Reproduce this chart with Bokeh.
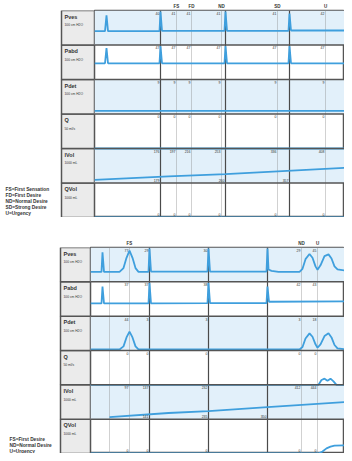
import numpy as np
from bokeh.plotting import figure
from bokeh.layouts import column, row
from bokeh.models import Range1d, LinearAxis, FixedTicker, Span, BoxAnnotation
from bokeh.core.properties import value
from bokeh.embed import file_html
from bokeh.resources import INLINE

FONT = "Liberation Sans"
TRACE = "#3f9fdd"
BAND = "#e2f0fa"
GRID = "#555555"
TEXT = "#333333"

# ---------------- channels ----------------
channels = ["Pves", "Pabd", "Pdet", "Q", "IVol", "QVol"]
channel_units = ["100 cm H2O", "100 cm H2O", "100 cm H2O", "50 ml/s", "1000 mL", "1000 mL"]
channel_scale = [100, 100, 100, 50, 1000, 1000]

# ---------------- panel 1 (filling) ----------------
t1_press = [0, 10.5, 12, 13.5, 65, 66, 67.5, 130, 131, 132.5, 194, 195, 196.5, 250]
p1_pves = [40, 40, 86, 40, 40, 97, 41, 41, 97, 41, 41, 91, 42, 42]
p1_pabd = [47, 47, 91, 47, 47, 97, 47, 47, 97, 47, 47, 97, 47, 47]
t1_pdet = [0, 250]
p1_pdet = [9, 9]
t1_q = [0, 250]
p1_q = [0, 0]
t1_ivol = [0, 74, 131, 250]
p1_ivol = [90, 190, 260, 440]
t1_qvol = [0, 250]
p1_qvol = [0, 0]
p1_page_lines = [66, 131, 195]
p1_event_times = [82, 97, 127, 183, 231]
p1_event_names = ["FS", "FD", "ND", "SD", "U"]
p1_value_marks = [66, 82, 97, 127, 183, 231]
p1_legend = ["FS=First Sensation", "FD=First Desire", "ND=Normal Desire",
             "SD=Strong Desire", "U=Urgency"]

# ---------------- panel 2 (filling + voiding) ----------------
t2_pves = [0, 11, 12, 13.5, 29, 33, 36, 39, 42, 45, 48, 58, 59, 60.5, 117, 118, 119.5,
           176, 177, 178, 181, 188, 209, 212, 215, 219, 222, 225, 227, 230, 234, 238,
           241, 244, 247, 254]
p2_pves = [29, 29, 86, 29, 29, 40, 70, 91, 70, 40, 29, 29, 97, 30, 30, 97, 30,
           30, 97, 36, 32, 29, 29, 38, 66, 81, 70, 45, 35, 48, 75, 80,
           68, 45, 36, 33]
t2_pabd = [0, 11, 12, 13.5, 58, 59, 60.5, 117, 118, 119.5, 176, 177, 178.5, 254]
p2_pabd = [37, 37, 86, 37, 37, 97, 37, 38, 97, 38, 38, 86, 42, 43]
t2_pdet = [0, 29, 33, 36, 39, 42, 45, 48, 209, 212, 215, 219, 222, 225, 227, 230,
           234, 238, 241, 244, 247, 254]
p2_pdet = [3, 3, 12, 38, 55, 38, 12, 3, 3, 10, 35, 50, 40, 18, 8, 18,
           42, 50, 38, 16, 6, 4]
t2_q = [0, 228, 231, 234, 237, 240, 243, 246, 254]
p2_q = [0, 0, 7, 9, 6, 9, 5, 0, 0]
t2_ivol = [19, 78, 118, 177, 254]
p2_ivol = [60, 180, 235, 350, 500]
t2_qvol = [0, 228, 232, 236, 240, 244, 254]
p2_qvol = [0, 0, 60, 150, 200, 230, 235]
p2_page_lines = [59, 118, 177]
p2_event_times = [19, 39, 211, 227]
p2_event_names = ["", "FS", "ND", "U"]
p2_value_marks = [39, 59, 118, 211, 227]
p2_legend = ["FS=First Desire", "ND=Normal Desire", "U=Urgency"]


def build_panel(left_w, plot_w, top, frame_h, xmax, traces, page_lines,
                ev_times, ev_names, value_marks, legend, legend_x, legend_top_px,
                cell_left):
    H = top + frame_h
    rowpx = frame_h / 6.0
    common = dict(height=H, output_backend="svg", toolbar_location=None,
                  x_axis_location=None, y_axis_location=None,
                  min_border_top=top, min_border_bottom=0,
                  min_border_left=0, min_border_right=0,
                  background_fill_color="white", border_fill_color="white")

    # ---- plot area ----
    p = figure(width=plot_w, x_range=Range1d(0, xmax), y_range=Range1d(0, 6), **common)
    p.grid.grid_line_color = None
    p.outline_line_color = GRID
    p.outline_line_width = 1.5

    extra = {}
    for i, name in enumerate(channels):
        j = 5 - i
        fs = channel_scale[i]
        extra[name] = Range1d(-j * fs, (6 - j) * fs)
    p.extra_y_ranges = extra

    for i in (0, 2, 4):
        j = 5 - i
        p.add_layout(BoxAnnotation(bottom=j, top=j + 1, fill_color=BAND, fill_alpha=1,
                                   line_alpha=0, level="underlay"))
    for t in page_lines:
        p.add_layout(Span(location=t, dimension="height", line_color="#4a4a4a",
                          line_width=1.2, level="underlay"))
    for t in ev_times:
        p.add_layout(Span(location=t, dimension="height", line_color="#8a8a8a",
                          line_width=0.8, line_dash="1 1", level="underlay"))

    for i, name in enumerate(channels):
        t, v = traces[i]
        p.line(t, v, y_range_name=name, line_color=TRACE, line_width=1.8)

    for k in range(1, 6):
        p.add_layout(Span(location=k, dimension="width", line_color=GRID, line_width=1.5))

    # value read-outs at the markers
    xs, ys, txt = [], [], []
    xb, yb, tb = [], [], []
    for i, name in enumerate(channels):
        j = 5 - i
        t, v = traces[i]
        for m in value_marks:
            val = int(round(float(np.interp(m - 2, t, v))))
            if name == "QVol":
                xb.append(m - 1); yb.append(j + 3.5 / rowpx); tb.append(str(val))
            else:
                xs.append(m - 1); ys.append(j + 1 - 3 / rowpx); txt.append(str(val))
        if name == "IVol":
            for m in page_lines:
                val = int(round(float(np.interp(m, t, v))))
                xb.append(m - 1); yb.append(j + 2.5 / rowpx); tb.append(str(val))
    p.text(x=xs, y=ys, text=txt, text_font=value(FONT), text_font_size="3.5px",
           text_align="right", text_baseline="middle", text_color=TEXT)
    p.text(x=xb, y=yb, text=tb, text_font=value(FONT), text_font_size="3.5px",
           text_align="right", text_baseline="middle", text_color=TEXT)

    ax = LinearAxis(ticker=FixedTicker(ticks=ev_times),
                    major_label_overrides={t: n for t, n in zip(ev_times, ev_names)},
                    axis_line_color=None, major_tick_line_color=None,
                    minor_tick_line_color=None, major_tick_in=0, major_tick_out=0,
                    major_label_standoff=2, major_label_text_font=FONT,
                    major_label_text_font_size="4.5px",
                    major_label_text_font_style="bold",
                    major_label_text_color=TEXT)
    p.add_layout(ax, "above")

    # ---- label column ----
    lf = figure(width=left_w, x_range=Range1d(0, left_w), y_range=Range1d(0, 6), **common)
    lf.grid.grid_line_color = None
    lf.outline_line_color = None
    lf.quad(left=[cell_left] * 6, right=[left_w] * 6, bottom=list(range(6)),
            top=list(range(1, 7)), fill_color="#ebebeb", line_color=GRID, line_width=1.5)
    names_y = [(5 - i) + 1 - 6.3 / rowpx for i in range(6)]
    units_y = [(5 - i) + 1 - 14.7 / rowpx for i in range(6)]
    lf.text(x=[cell_left + 3] * 6, y=names_y, text=channels, text_font=value(FONT),
            text_font_size="5.5px", text_font_style="bold", text_baseline="middle",
            text_color=TEXT)
    lf.text(x=[cell_left + 3] * 6, y=units_y, text=channel_units, text_font=value(FONT),
            text_font_size="3.3px", text_baseline="middle", text_color=TEXT)
    leg_y = [(frame_h - (legend_top_px + 6 * k)) / rowpx for k in range(len(legend))]
    lf.text(x=[legend_x] * len(legend), y=leg_y, text=legend, text_font=value(FONT),
            text_font_size="4.8px", text_font_style="bold", text_baseline="middle",
            text_color=TEXT)
    return row(lf, p, spacing=0)


traces1 = [(t1_press, p1_pves), (t1_press, p1_pabd), (t1_pdet, p1_pdet),
           (t1_q, p1_q), (t1_ivol, p1_ivol), (t1_qvol, p1_qvol)]
traces2 = [(t2_pves, p2_pves), (t2_pabd, p2_pabd), (t2_pdet, p2_pdet),
           (t2_q, p2_q), (t2_ivol, p2_ivol), (t2_qvol, p2_qvol)]

panel1 = build_panel(94, 250, 9, 208, 250, traces1, p1_page_lines, p1_event_times,
                     p1_event_names, p1_value_marks, p1_legend, 5, 180, 61)
panel2 = build_panel(90, 254, 30, 206, 254, traces2, p2_page_lines, p2_event_times,
                     p2_event_names, p2_value_marks, p2_legend, 9, 192, 60)

layout = column(panel1, panel2, spacing=0)
open("out.html", "w").write(file_html(layout, INLINE))
